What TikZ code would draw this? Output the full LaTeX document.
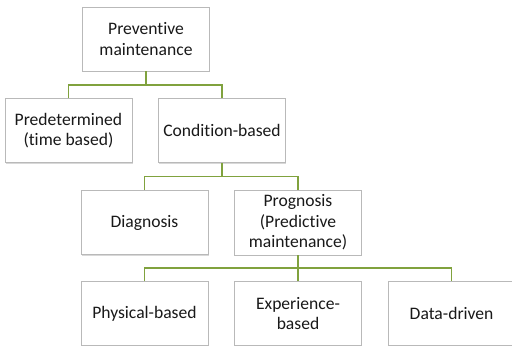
\documentclass[tikz,border=0pt]{standalone}
\usepackage{fontspec}
\setmainfont{Carlito}[Ligatures={NoCommon}]
\usepackage{tikz}
\usetikzlibrary{positioning,calc,shadows}
\definecolor{branch}{RGB}{128,162,62}
\definecolor{frame}{RGB}{185,185,185}

\begin{document}
\begin{tikzpicture}[
  box/.style = {
    draw = frame,
    rectangle,
    fill = white,
    text = black!90,
    align = center,
    font = \fontsize{12.5}{14.5}\selectfont,
    minimum width = 3.175cm,
    minimum height = 1.6cm,
    drop shadow = {shadow xshift=0.6pt, shadow yshift=-0.9pt, fill=black!30},
  },
  link/.style = {
    draw = branch,
    line width = 1.1pt,
  },
]

  \useasboundingbox (0,0) rectangle (12.8,-8.625);

  \node[box] (prev) at (3.65,-0.975) {Preventive\\maintenance};

  \node[box] (cond) [below=0.675cm of prev, xshift=1.9cm] {Condition-based};
  \node[box] (pred) [left=0.65cm of cond] {Predetermined\\(time based)};

  \node[box] (prog) [below=0.675cm of cond, xshift=1.9cm] {Prognosis\\(Predictive\\maintenance)};
  \node[box] (diag) [left=0.65cm of prog] {Diagnosis};

  \node[box] (expb) [below=0.65cm of prog] {Experience-\\based};
  \node[box] (phys) [left=0.65cm of expb] {Physical-based};
  \node[box] (data) [right=0.65cm of expb] {Data-driven};

  % bus points
  \coordinate (b1) at ($(prev.south)!0.5!(prev.south |- cond.north)$);
  \coordinate (b2) at ($(cond.south)!0.5!(cond.south |- prog.north)$);
  \coordinate (b3) at ($(prog.south)!0.5!(expb.north)$);

  \draw[link] (prev.south) -- (b1);
  \draw[link] (pred.north) |- (b1) -| (cond.north);
  \draw[link] (cond.south) -- (b2);
  \draw[link] (diag.north) |- (b2) -| (prog.north);
  \draw[link] (prog.south) -- (expb.north);
  \draw[link] (phys.north) |- (b3) -| (data.north);

\end{tikzpicture}
\end{document}
